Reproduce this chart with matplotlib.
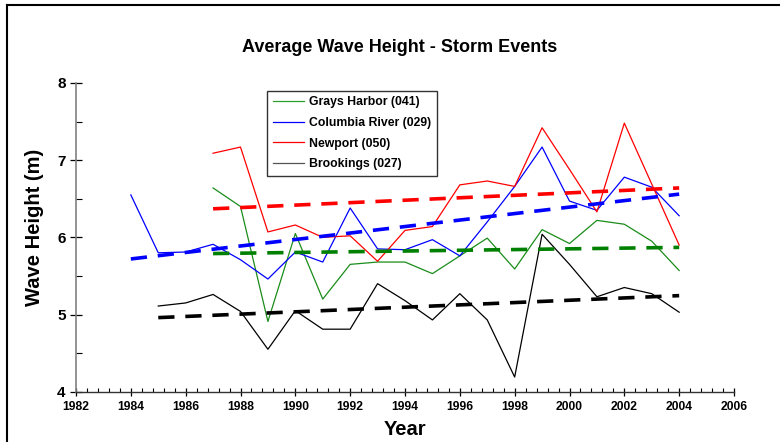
import matplotlib
matplotlib.use("Agg")
import matplotlib.pyplot as plt
from matplotlib.lines import Line2D
from matplotlib.ticker import MultipleLocator

plt.rcParams['font.family'] = ['Liberation Sans', 'DejaVu Sans']

# ---- data ----
years_gh = list(range(1987, 2005))
grays_harbor = [6.64, 6.40, 4.91, 6.05, 5.20, 5.65, 5.68, 5.68, 5.53, 5.76,
                5.99, 5.59, 6.10, 5.92, 6.22, 6.17, 5.95, 5.57]
years_cr = list(range(1984, 2005))
columbia_river = [6.55, 5.80, 5.81, 5.91, 5.71, 5.46, 5.81, 5.68, 6.38, 5.85,
                  5.84, 5.97, 5.76, 6.20, 6.66, 7.17, 6.47, 6.35, 6.78, 6.65, 6.28]
years_np = list(range(1987, 2005))
newport = [7.09, 7.17, 6.07, 6.16, 6.00, 6.02, 5.69, 6.09, 6.14, 6.68,
           6.73, 6.66, 7.42, 6.88, 6.33, 7.48, 6.69, 5.90]
years_br = list(range(1985, 2005))
brookings = [5.11, 5.15, 5.26, 5.04, 4.55, 5.05, 4.81, 4.81, 5.40, 5.18,
             4.93, 5.27, 4.93, 4.19, 6.04, 5.65, 5.23, 5.35, 5.27, 5.03]

# trend line endpoints (years, values)
trend_gh = ([1987, 2004], [5.79, 5.87])
trend_cr = ([1984, 2004], [5.72, 6.56])
trend_np = ([1987, 2004], [6.37, 6.64])
trend_br = ([1985, 2004], [4.96, 5.245])

labels = ["Grays Harbor (041)", "Columbia River (029)", "Newport (050)", "Brookings (027)"]
title = "Average Wave Height - Storm Events"
xlabel = "Year"
ylabel = "Wave Height (m)"

# ---- figure ----
fig = plt.figure(figsize=(7.8, 4.42), dpi=100)
ax = fig.add_axes([76/780, 1-391.7/442, (734-76)/780, (391.7-83)/442])

line_c = {'gh': '#1a8c1a', 'cr': '#0000ff', 'np': '#ff0000', 'br': '#000000'}
trend_c = {'gh': '#008000', 'cr': '#0000ff', 'np': '#ff0000', 'br': '#000000'}

lw = 0.9
h1, = ax.plot(years_gh, grays_harbor, color=line_c['gh'], lw=lw)
h2, = ax.plot(years_cr, columbia_river, color=line_c['cr'], lw=lw)
h3, = ax.plot(years_np, newport, color=line_c['np'], lw=lw)
h4, = ax.plot(years_br, brookings, color=line_c['br'], lw=lw)

tlw = 2.6
dash = (0, (4.5, 3))
ax.plot(*trend_np, color=trend_c['np'], lw=tlw, linestyle=dash)
ax.plot(*trend_cr, color=trend_c['cr'], lw=tlw, linestyle=dash)
ax.plot(*trend_gh, color=trend_c['gh'], lw=tlw, linestyle=dash)
ax.plot(*trend_br, color=trend_c['br'], lw=tlw, linestyle=dash)

ax.set_xlim(1982, 2006)
ax.set_ylim(4, 8)
ax.xaxis.set_major_locator(MultipleLocator(2))
ax.xaxis.set_minor_locator(MultipleLocator(0.4))
ax.yaxis.set_major_locator(MultipleLocator(1))
ax.yaxis.set_minor_locator(MultipleLocator(0.5))

for s in ['top', 'right']:
    ax.spines[s].set_visible(False)
ax.spines['left'].set_color('#808080')
ax.spines['left'].set_linewidth(1.2)
ax.spines['bottom'].set_color('#333333')
ax.spines['bottom'].set_linewidth(1.0)

ax.tick_params(axis='x', which='major', direction='inout', length=6, width=0.9,
               labelsize=8.7, pad=4)
ax.tick_params(axis='x', which='minor', direction='in', length=3, width=0.8)
ax.tick_params(axis='y', which='major', direction='inout', length=9, width=0.9,
               labelsize=11, pad=3)
ax.tick_params(axis='y', which='minor', direction='in', length=4, width=0.8)
for t in ax.get_xticklabels() + ax.get_yticklabels():
    t.set_fontweight('bold')

ax.set_xlabel(xlabel, fontsize=14.5, fontweight='bold', labelpad=5)
ax.set_ylabel(ylabel, fontsize=14.5, fontweight='bold')
ax.yaxis.set_label_coords(-0.049, 0.532)
fig.text(0.512, 1-48/442, title, ha='center', va='center', fontsize=13,
         fontweight='bold')

leg = ax.legend([h1, h2, h3, h4], labels, loc='upper left',
                bbox_to_anchor=(267/780, 1-91/442), bbox_transform=fig.transFigure,
                borderaxespad=0, fancybox=False, edgecolor='black',
                prop={'weight': 'bold', 'size': 8.8}, handlelength=2.6,
                handletextpad=0.4, labelspacing=0.7, borderpad=0.45)
leg.get_frame().set_linewidth(1.0)
for lh, c in zip(leg.get_lines(), ['#2ca02c', '#0000ff', '#ff0000', '#555555']):
    lh.set_color(c)

# outer frame (top and left edges visible)
fig.add_artist(Line2D([7/780, 1], [1-5/442, 1-5/442], transform=fig.transFigure,
                      color='black', lw=1.5))
fig.add_artist(Line2D([7/780, 7/780], [0, 1-5/442], transform=fig.transFigure,
                      color='black', lw=1.5))

fig.savefig("out.png", dpi=100)
